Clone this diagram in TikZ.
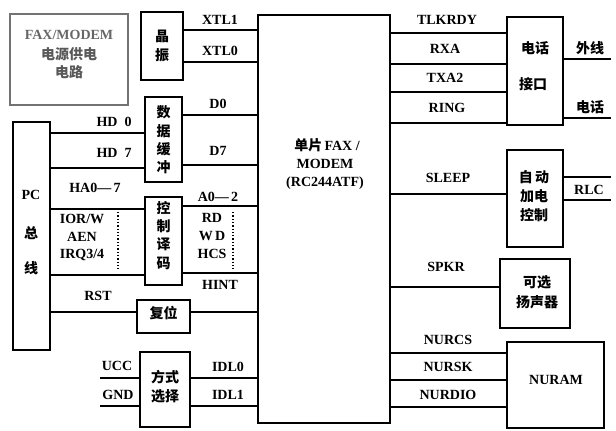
\documentclass[tikz,border=0pt]{standalone}
\usepackage{fontspec}
\setmainfont{Liberation Serif}
\newfontfamily\cjk{Noto Sans CJK SC}
\begin{document}
\begin{tikzpicture}[x=1pt,y=-1pt,
  box/.style={draw,line width=1.1pt,inner sep=0pt},
  wire/.style={line width=1.1pt},
  lab/.style={inner sep=0pt,font=\fontsize{14}{15}\selectfont\bfseries},
  zh/.style={inner sep=0pt,font=\fontsize{14}{15}\selectfont\cjk\bfseries},
  dots/.style={line width=1.3pt,dotted}]
\useasboundingbox (0,0) rectangle (616,431);
% boxes
\node[box,draw=black!55,minimum width=118pt,minimum height=91pt] (fm) at (69,59.5) {};
\node[box,minimum width=42pt,minimum height=68pt] (jz) at (162,46) {};
\node[box,minimum width=132pt,minimum height=408pt] (chip) at (324,219) {};
\node[box,minimum width=37pt,minimum height=85pt] (sj) at (163.5,139.5) {};
\node[box,minimum width=37pt,minimum height=228pt] (pc) at (31.5,236) {};
\node[box,minimum width=37pt,minimum height=88pt] (kz) at (163.5,241) {};
\node[box,minimum width=53pt,minimum height=33pt] (fw) at (163.5,316.5) {};
\node[box,minimum width=50pt,minimum height=75pt] (fs) at (165,389.5) {};
\node[box,minimum width=56pt,minimum height=108pt] (dh) at (535,71) {};
\node[box,minimum width=56pt,minimum height=97pt] (zd) at (535,198.5) {};
\node[box,minimum width=70pt,minimum height=69pt] (ky) at (535,293.5) {};
\node[box,minimum width=97pt,minimum height=86pt] (nr) at (555.5,385) {};
% box texts
\node[lab,text=black!60] (t1) at (69,35) {FAX/MODEM};
\node[zh,text=black!65] (t2) at (69,54) {电源供电};
\node[zh,text=black!65] (t3) at (69,72) {电路};
\node[zh] (t4) at (162,36) {晶};
\node[zh] (t5) at (162,55) {振};
\node[zh] (t6) at (163.5,112) {数};
\node[zh] (t7) at (163.5,131) {据};
\node[zh] (t8) at (163.5,149) {缓};
\node[zh] (t9) at (163.5,167) {冲};
\node[zh] (t10) at (163.5,208) {控};
\node[zh] (t11) at (163.5,226) {制};
\node[zh] (t12) at (163.5,244) {译};
\node[zh] (t13) at (163.5,263) {码};
\node[lab] (t14) at (31,195) {PC};
\node[zh] (t15) at (31,233) {总};
\node[zh] (t16) at (31,268) {线};
\node[zh] (t17) at (163.5,313) {复位};
\node[zh] (t18) at (165,377) {方式};
\node[zh] (t19) at (165,396) {选择};
\node[lab] (t20) at (327,145) {\cjk 单片\,\rmfamily FAX /};
\node[lab] (t21) at (325,164) {MODEM};
\node[lab] (t22) at (325,183) {(RC244ATF)};
\node[zh] (t23) at (535,48) {电话};
\node[zh] (t24) at (533,84) {接口};
\node[zh] (t25) at (534,177) {自\,动};
\node[zh] (t26) at (534,196) {加电};
\node[zh] (t27) at (534,215) {控制};
\node[zh] (t28) at (537,282) {可选};
\node[zh] (t29) at (537,302) {扬声器};
\node[lab] (t30) at (556,380) {NURAM};
% left-side wires
\draw[wire] (jz.east |- 0,30) -- (chip.west |- 0,30);
\draw[wire] (jz.east |- 0,62) -- (chip.west |- 0,62);
\draw[wire] (sj.east |- 0,115) -- (chip.west |- 0,115);
\draw[wire] (sj.east |- 0,165) -- (chip.west |- 0,165);
\draw[wire] (pc.east |- 0,133) -- (sj.west |- 0,133);
\draw[wire] (pc.east |- 0,168) -- (sj.west |- 0,168);
\draw[wire] (pc.east |- 0,209) -- (kz.west |- 0,209);
\draw[wire] (pc.east |- 0,275) -- (kz.west |- 0,275);
\draw[wire] (kz.east |- 0,206) -- (chip.west |- 0,206);
\draw[wire] (kz.east |- 0,273) -- (chip.west |- 0,273);
\draw[wire] (pc.east |- 0,312) -- (fw.west |- 0,312);
\draw[wire] (fw.east |- 0,312) -- (chip.west |- 0,312);
\coordinate (ucc) at (100,378);
\coordinate (gnd) at (100,406);
\draw[wire] (ucc) -- (fs.west |- ucc);
\draw[wire] (gnd) -- (fs.west |- gnd);
\draw[wire] (fs.east |- 0,378) -- (chip.west |- 0,378);
\draw[wire] (fs.east |- 0,406) -- (chip.west |- 0,406);
\coordinate (d1a) at (118,212); \coordinate (d1b) at (118,270);
\coordinate (d2a) at (233,212); \coordinate (d2b) at (233,270);
\draw[dots] (d1a) -- (d1b);
\draw[dots] (d2a) -- (d2b);
% right-side wires
\draw[wire] (chip.east |- 0,33) -- (dh.west |- 0,33);
\draw[wire] (chip.east |- 0,64) -- (dh.west |- 0,64);
\draw[wire] (chip.east |- 0,92) -- (dh.west |- 0,92);
\draw[wire] (chip.east |- 0,123) -- (dh.west |- 0,123);
\coordinate (wx) at (611,59);
\coordinate (dhr) at (611,118);
\draw[wire] (dh.east |- wx) -- (wx);
\draw[wire] (dh.east |- dhr) -- (dhr);
\draw[wire] (chip.east |- 0,194) -- (zd.west |- 0,194);
\coordinate (rlc1) at (611,177);
\coordinate (rlc2) at (611,200);
\draw[wire] (zd.east |- rlc1) -- (rlc1);
\draw[wire] (zd.east |- rlc2) -- (rlc2);
\draw[wire] (chip.east |- 0,287) -- (ky.west |- 0,287);
\draw[wire] (chip.east |- 0,353) -- (nr.west |- 0,353);
\draw[wire] (chip.east |- 0,380) -- (nr.west |- 0,380);
\draw[wire] (chip.east |- 0,407) -- (nr.west |- 0,407);
% wire labels
\node[lab] (x1) at (220,20) {XTL1};
\node[lab] (x2) at (220,51) {XTL0};
\node[lab] (x3) at (218,104) {D0};
\node[lab] (x4) at (218,151) {D7};
\node[lab] (x5) at (114,122) {HD\ \ 0};
\node[lab] (x6) at (114,153) {HD\ \ 7};
\node[lab] (x7) at (95,188) {HA0—\,7};
\node[lab] (x8) at (82,219) {IOR/W};
\node[lab] (x9) at (82,237) {AEN};
\node[lab] (x10) at (82,255) {IRQ3/4};
\node[lab] (x11) at (218,197) {A0—\,2};
\node[lab] (x12) at (212,218) {RD};
\node[lab] (x13) at (212,236) {W\,D};
\node[lab] (x14) at (212,254) {HCS};
\node[lab] (x15) at (220,285) {HINT};
\node[lab] (x16) at (98,296) {RST};
\node[lab] (x17) at (117,366) {UCC};
\node[lab] (x18) at (118,395) {GND};
\node[lab] (x19) at (228,367) {IDL0};
\node[lab] (x20) at (228,395) {IDL1};
\node[lab] (x21) at (447,20) {TLKRDY};
\node[lab] (x22) at (445,49) {RXA};
\node[lab] (x23) at (445,78) {TXA2};
\node[lab] (x24) at (447,108) {RING};
\node[zh] (x25) at (590,48) {外线};
\node[zh] (x26) at (590,107) {电话};
\node[lab] (x27) at (448,178) {SLEEP};
\node[lab] (x28) at (589,190) {RLC};
\node[lab] (x29) at (446,267) {SPKR};
\node[lab] (x30) at (448,340) {NURCS};
\node[lab] (x31) at (448,367) {NURSK};
\node[lab] (x32) at (448,395) {NURDIO};
\end{tikzpicture}
\end{document}
